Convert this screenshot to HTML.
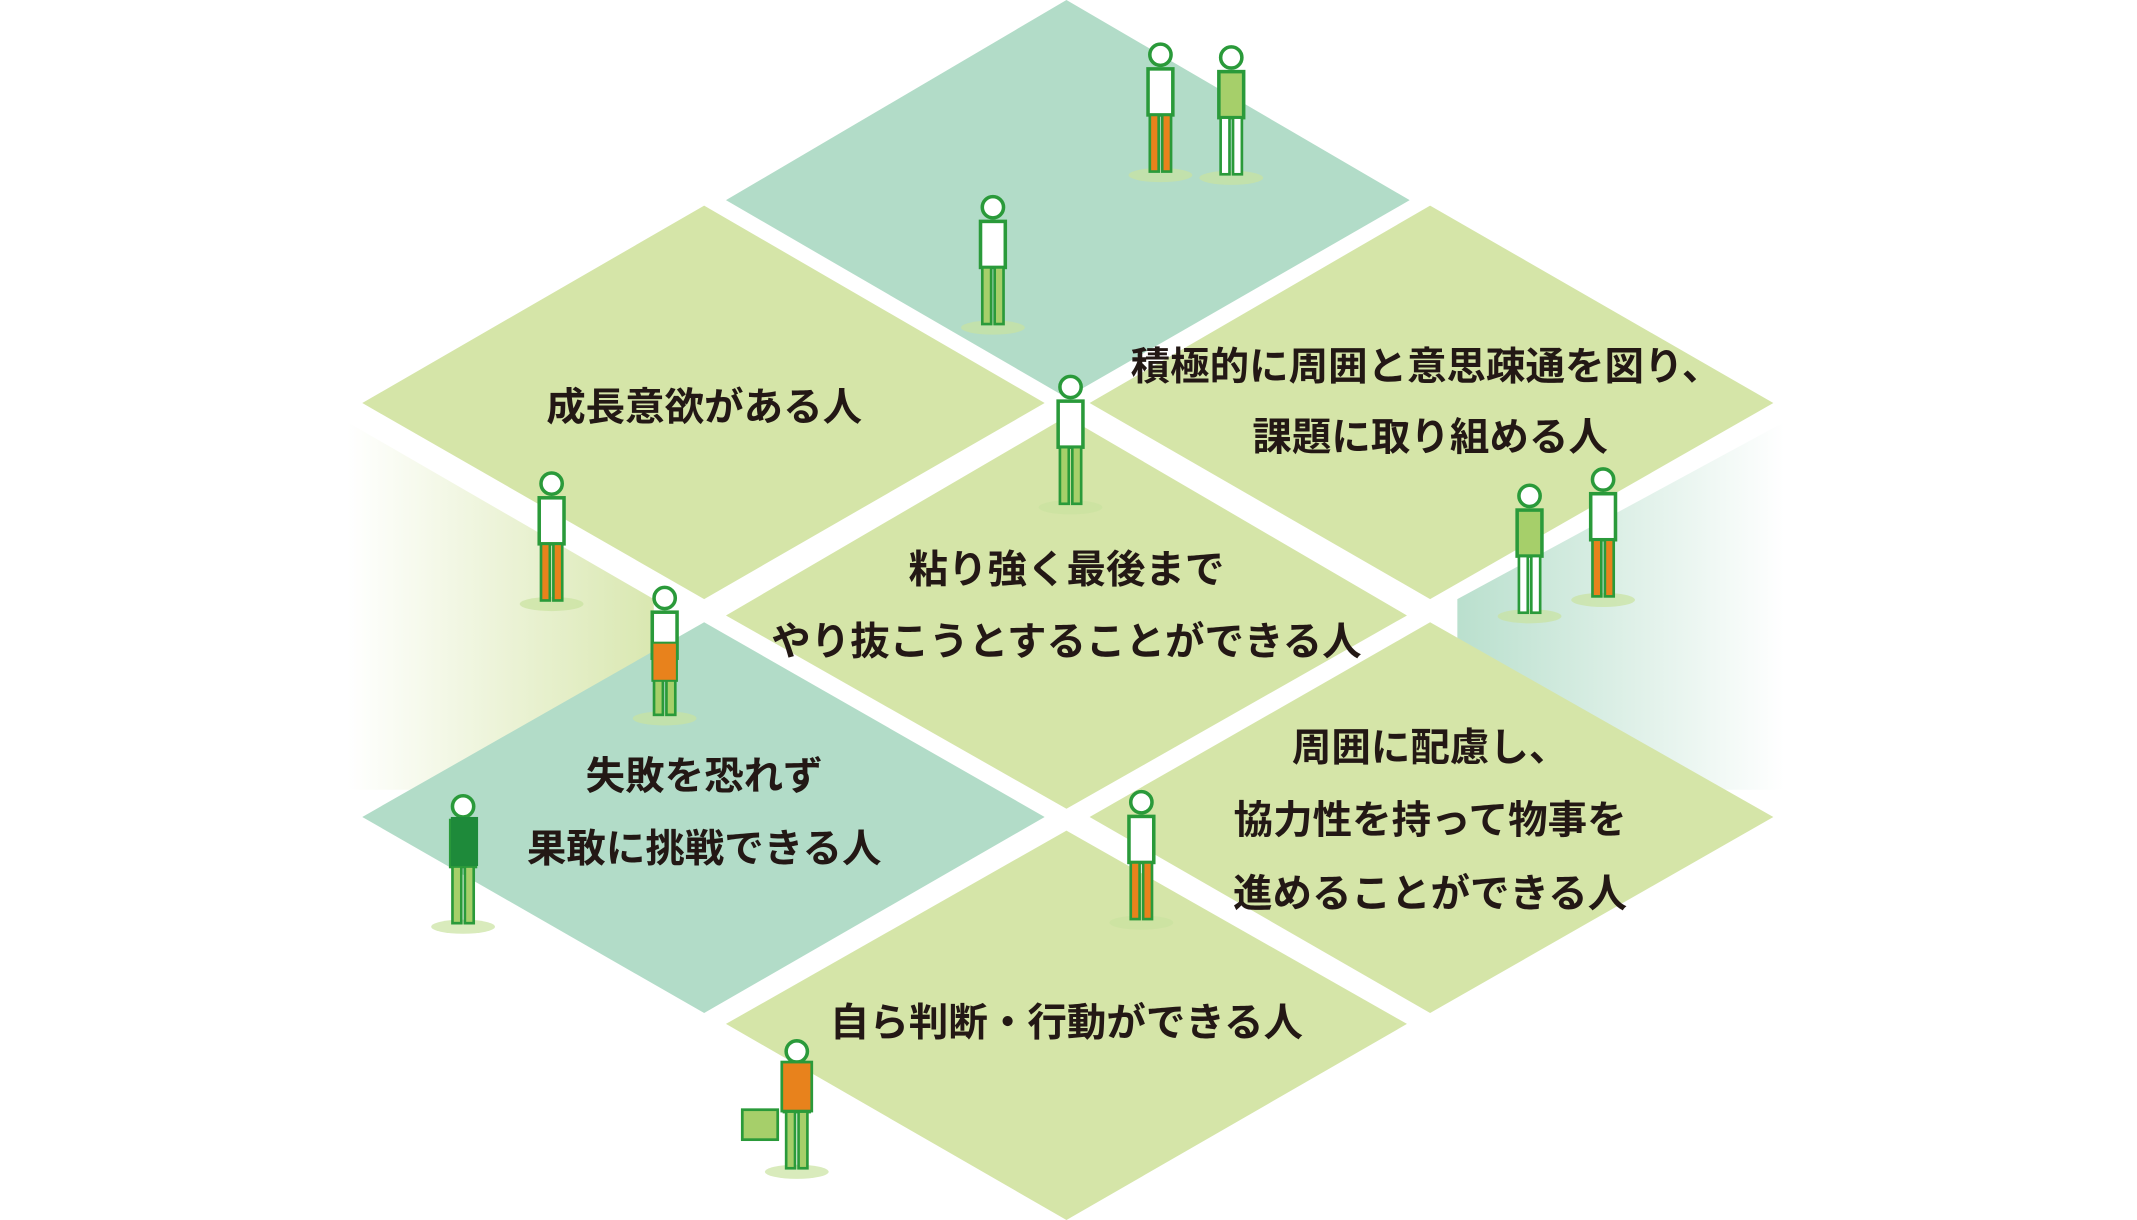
<!DOCTYPE html>
<html><head><meta charset="utf-8"><style>
html,body{margin:0;padding:0;background:#fff;}
svg{display:block;}
text{font-family:"Liberation Sans","Noto Sans CJK JP",sans-serif;font-weight:bold;font-size:29px;fill:#231815;text-anchor:middle;}
</style></head><body>
<svg width="2137" height="1220" viewBox="0 0 1569 896" preserveAspectRatio="none">
<defs>
<linearGradient id="gl" x1="0" x2="1" y1="0" y2="0"><stop offset="0" stop-color="#d5e5a8" stop-opacity="0"/><stop offset="1" stop-color="#d5e5a8" stop-opacity="0.9"/></linearGradient>
<linearGradient id="gr" x1="0" x2="1" y1="0" y2="0"><stop offset="0" stop-color="#b2dcc8" stop-opacity="0.9"/><stop offset="1" stop-color="#b2dcc8" stop-opacity="0"/></linearGradient>
<g id="p1" transform="scale(1.3)">
<ellipse cx="0" cy="62" rx="18" ry="4" fill="#c9e3a0" opacity="0.7"/>
<circle cx="0" cy="-6" r="6" fill="#fff" stroke="#2a9a3a" stroke-width="2"/>
<rect x="-7" y="2" width="14" height="26" fill="#fff" stroke="#2a9a3a" stroke-width="2"/>
<rect x="-6" y="28" width="5" height="32" fill="#e8821c" stroke="#2a9a3a" stroke-width="1.5"/>
<rect x="1" y="28" width="5" height="32" fill="#e8821c" stroke="#2a9a3a" stroke-width="1.5"/>
</g>
<g id="p2" transform="scale(1.3)">
<ellipse cx="0" cy="62" rx="18" ry="4" fill="#c9e3a0" opacity="0.7"/>
<circle cx="0" cy="-6" r="6" fill="#fff" stroke="#2a9a3a" stroke-width="2"/>
<rect x="-7" y="2" width="14" height="26" fill="#a6cf6a" stroke="#2a9a3a" stroke-width="2"/>
<rect x="-6" y="28" width="5" height="32" fill="#fff" stroke="#2a9a3a" stroke-width="1.5"/>
<rect x="1" y="28" width="5" height="32" fill="#fff" stroke="#2a9a3a" stroke-width="1.5"/>
</g>
<g id="p3" transform="scale(1.3)">
<ellipse cx="0" cy="62" rx="18" ry="4" fill="#c9e3a0" opacity="0.7"/>
<circle cx="0" cy="-6" r="6" fill="#fff" stroke="#2a9a3a" stroke-width="2"/>
<rect x="-7" y="2" width="14" height="26" fill="#fff" stroke="#2a9a3a" stroke-width="2"/>
<rect x="-6" y="28" width="5" height="32" fill="#a6cf6a" stroke="#2a9a3a" stroke-width="1.5"/>
<rect x="1" y="28" width="5" height="32" fill="#a6cf6a" stroke="#2a9a3a" stroke-width="1.5"/>
</g>
</defs>
<polygon points="255,310 480,440 480,580 255,580" fill="url(#gl)"/>
<polygon points="1070,440 1310,310 1310,580 1070,580" fill="url(#gr)"/>
<polygon points="783,0 1035,147 783,292 533,147" fill="#b2dcc8"/>
<polygon points="517,151 767,296 517,440 266,296" fill="#d5e5a8"/>
<polygon points="1050,151 1302,296 1050,440 800,296" fill="#d5e5a8"/>
<polygon points="783,306 1033,452 783,594 533,452" fill="#d5e5a8"/>
<polygon points="517,457 767,600 517,744 266,600" fill="#b2dcc8"/>
<polygon points="1050,457 1302,600 1050,744 800,600" fill="#d5e5a8"/>
<polygon points="783,610 1033,752 783,896 533,752" fill="#d5e5a8"/>
<use href="#p1" x="852" y="48"/>
<use href="#p2" x="904" y="50"/>
<use href="#p3" x="729" y="160"/>
<use href="#p3" x="786" y="292"/>
<use href="#p1" x="405" y="363"/>
<use href="#p3" x="488" y="447"/>
<use href="#p2" x="1123" y="372"/>
<use href="#p1" x="1177" y="360"/>
<use href="#p3" x="340" y="600"/>
<use href="#p1" x="838" y="597"/>
<use href="#p3" x="585" y="780"/>
<rect x="331" y="600" width="20" height="36" fill="#1e8a3a"/>
<rect x="574" y="780" width="22" height="36" fill="#e8821c" stroke="#2a9a3a" stroke-width="2"/>
<rect x="545" y="815" width="26" height="22" fill="#a6cf6a" stroke="#2a9a3a" stroke-width="2"/>
<rect x="479" y="472" width="18" height="28" fill="#e8821c" stroke="#2a9a3a" stroke-width="1.5"/>
<text x="517" y="309">成長意欲がある人</text>
<text x="1047" y="279">積極的に周囲と意思疎通を図り、</text>
<text x="1050" y="331">課題に取り組める人</text>
<text x="783" y="428">粘り強く最後まで</text>
<text x="783" y="481">やり抜こうとすることができる人</text>
<text x="517" y="580">失敗を恐れず</text>
<text x="517" y="633">果敢に挑戦できる人</text>
<text x="1050" y="559">周囲に配慮し、</text>
<text x="1050" y="612">協力性を持って物事を</text>
<text x="1050" y="666">進めることができる人</text>
<text x="783" y="761">自ら判断・行動ができる人</text>
</svg>
</body></html>
